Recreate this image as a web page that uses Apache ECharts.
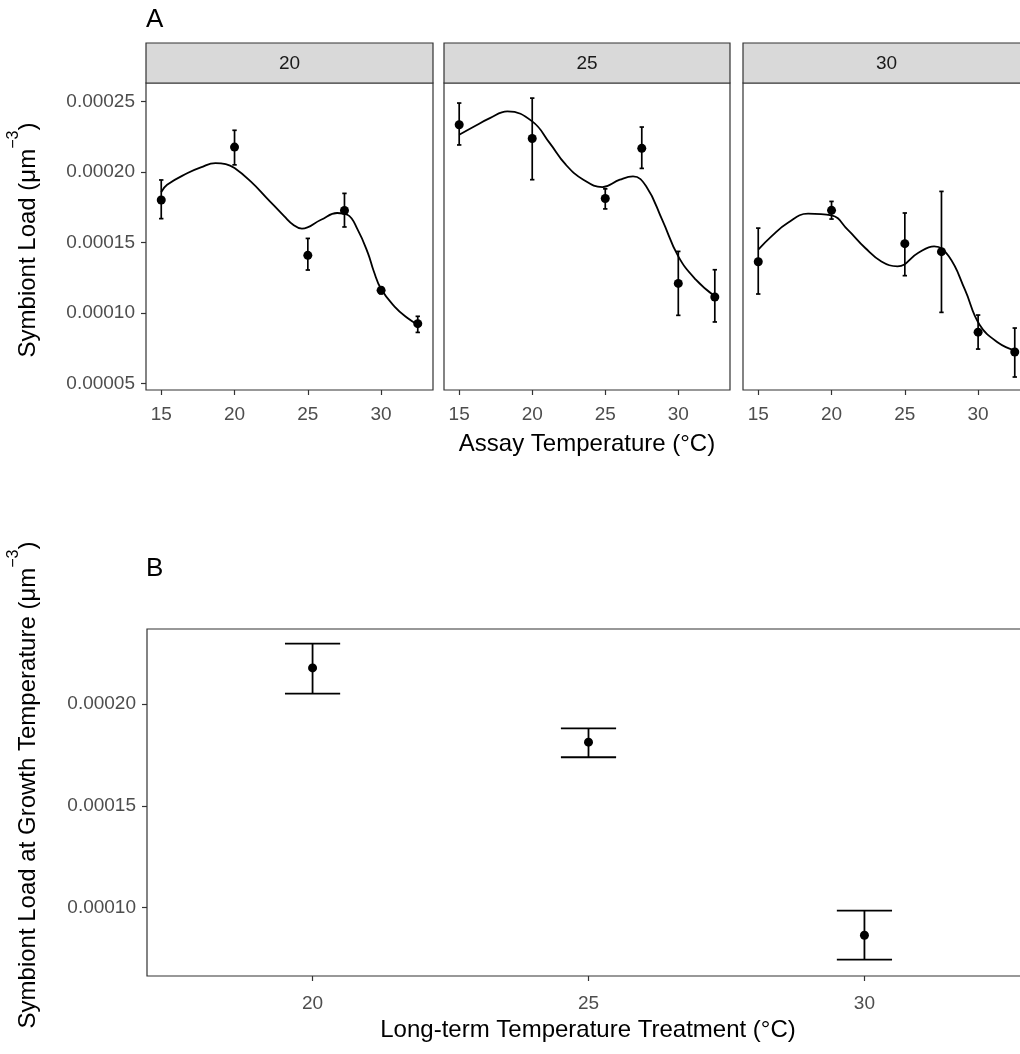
<!DOCTYPE html>
<html>
<head>
<meta charset="utf-8">
<script src="https://cdn.jsdelivr.net/npm/echarts@6/dist/echarts.min.js"></script>
<style>
  html, body { margin: 0; padding: 0; background: #fff; }
  #chart { width: 1020px; height: 1054px; }
</style>
</head>
<body>
<div id="chart"></div>
<script>
// ---- Panel A: symbiont load across assay temperatures, one facet per growth temperature ----
const facetLabels = ['20', '25', '30'];
const assayTemps = [15, 20, 25, 27.5, 30, 32.5];

const load20 = [0.0001801, 0.0002176, 0.0001409, 0.0001727, 0.0001161, 0.0000925];
const lo20   = [0.0001669, 0.0002050, 0.0001305, 0.0001610, 0.0001137, 0.0000863];
const hi20   = [0.0001943, 0.0002295, 0.0001529, 0.0001848, 0.0001185, 0.0000977];

const load25 = [0.0002334, 0.0002237, 0.0001812, 0.0002167, 0.0001210, 0.0001114];
const lo25   = [0.0002191, 0.0001945, 0.0001738, 0.0002025, 0.0000984, 0.0000937];
const hi25   = [0.0002488, 0.0002523, 0.0001880, 0.0002318, 0.0001437, 0.0001307];

const load30 = [0.0001364, 0.0001728, 0.0001492, 0.0001435, 0.0000865, 0.0000724];
const lo30   = [0.0001135, 0.0001666, 0.0001265, 0.0001005, 0.0000745, 0.0000547];
const hi30   = [0.0001602, 0.0001791, 0.0001709, 0.0001862, 0.0000986, 0.0000894];

// fitted curves (assay temperature, load)
const fitX20 = [15, 15.4, 16.8, 17.7, 18.7, 19.4, 20, 21.1, 22.2, 23.4, 24.0, 24.6, 25.9, 27.0, 27.7, 28.4, 29.1, 29.5, 30, 30.9, 31.8, 32.5];
const fitY20 = [0.0001857, 0.0001909, 0.0001992, 0.0002032, 0.0002063, 0.0002056, 0.0002027, 0.0001933, 0.0001815, 0.0001685, 0.0001626, 0.0001598, 0.0001661, 0.0001709, 0.0001697, 0.0001591, 0.0001425, 0.0001296, 0.0001170, 0.0001048, 0.0000965, 0.0000918];

const fitX25 = [15, 15.96, 17.1, 18.3, 20, 21.2, 22.3, 23.5, 24.8, 26.0, 26.9, 27.8, 28.9, 30, 31.2, 32.5];
const fitY25 = [0.0002263, 0.0002318, 0.0002381, 0.0002429, 0.0002358, 0.0002204, 0.0002051, 0.0001945, 0.0001893, 0.0001945, 0.0001968, 0.0001898, 0.0001661, 0.0001402, 0.0001237, 0.0001119];

const fitX30 = [15, 15.9, 17.0, 18.4, 20, 21.1, 22.3, 23.4, 24.5, 25.9, 27.0, 28.0, 29.1, 30.1, 31.4, 32.5];
const fitY30 = [0.0001449, 0.0001543, 0.0001638, 0.0001704, 0.0001692, 0.0001591, 0.0001461, 0.0001366, 0.0001331, 0.0001425, 0.0001473, 0.0001402, 0.0001166, 0.0000918, 0.0000788, 0.0000736];

const assayTicks = [15, 20, 25, 30];
const loadTicksA = [0.00005, 0.00010, 0.00015, 0.00020, 0.00025];

// ---- Panel B: load at the growth temperature ----
const treatments = [20, 25, 30];
const growthLoad = [0.0002176, 0.0001812, 0.0000865];
const growthLo   = [0.0002050, 0.0001738, 0.0000745];
const growthHi   = [0.0002295, 0.0001880, 0.0000986];
const loadTicksB = [0.00010, 0.00015, 0.00020];

// ---- layout ----
const FONT = '"Liberation Sans", Arial, Helvetica, sans-serif';
const facetLeft = [146, 444, 743];
const facetWidth = [287, 286, 287];
const panelTop = 83, panelH = 307, stripTop = 43, stripH = 40;
const bLeft = 147, bTop = 629, bWidth = 883, bHeight = 347;

const fits = [[fitX20, fitY20], [fitX25, fitY25], [fitX30, fitY30]];
const means = [load20, load25, load30];
const los = [lo20, lo25, lo30];
const his = [hi20, hi25, hi30];

function errorBars(axisIndex, xs, lo, hi, capHalf, width) {
  return {
    type: 'custom',
    xAxisIndex: axisIndex,
    yAxisIndex: axisIndex,
    silent: true,
    clip: false,
    z: 3,
    encode: { x: 0, y: [1, 2] },
    data: xs.map((x, i) => [x, lo[i], hi[i]]),
    renderItem(params, api) {
      const x = api.value(0);
      const pLo = api.coord([x, api.value(1)]);
      const pHi = api.coord([x, api.value(2)]);
      const l = api.coord([x - capHalf, api.value(1)])[0];
      const r = api.coord([x + capHalf, api.value(1)])[0];
      const st = { stroke: '#000', lineWidth: width };
      return {
        type: 'group',
        children: [
          { type: 'line', shape: { x1: pLo[0], y1: pLo[1], x2: pHi[0], y2: pHi[1] }, style: st },
          { type: 'line', shape: { x1: l, y1: pLo[1], x2: r, y2: pLo[1] }, style: st },
          { type: 'line', shape: { x1: l, y1: pHi[1], x2: r, y2: pHi[1] }, style: st }
        ]
      };
    }
  };
}

const grids = [], xAxes = [], yAxes = [], series = [], graphics = [];

for (let f = 0; f < 3; f++) {
  grids.push({
    left: facetLeft[f], top: panelTop, width: facetWidth[f], height: panelH,
    show: true, borderColor: '#333333', borderWidth: 1.2, backgroundColor: 'transparent',
    containLabel: false, outerBoundsMode: 'none'
  });
  xAxes.push({
    type: 'value', gridIndex: f, min: 13.96, max: 33.54,
    axisLine: { show: false }, splitLine: { show: false },
    axisTick: { show: true, customValues: assayTicks, length: 5, lineStyle: { color: '#333333', width: 1.2 } },
    axisLabel: { show: true, customValues: assayTicks, color: '#4d4d4d', fontSize: 19, fontFamily: FONT, margin: 15 }
  });
  yAxes.push({
    type: 'value', gridIndex: f, min: 0.0000455, max: 0.000263,
    axisLine: { show: false }, splitLine: { show: false },
    axisTick: { show: f === 0, customValues: loadTicksA, length: 5, lineStyle: { color: '#333333', width: 1.2 } },
    axisLabel: {
      show: f === 0, customValues: loadTicksA, color: '#4d4d4d', fontSize: 19, fontFamily: FONT, margin: 11,
      formatter: v => v.toFixed(5)
    }
  });
  series.push({
    type: 'line', xAxisIndex: f, yAxisIndex: f,
    data: fits[f][0].map((x, i) => [x, fits[f][1][i]]),
    smooth: 0.45, symbol: 'none', silent: true, z: 2,
    lineStyle: { color: '#000', width: 1.8 }
  });
  series.push(errorBars(f, assayTemps, los[f], his[f], 0.15, 1.7));
  series.push({
    type: 'scatter', xAxisIndex: f, yAxisIndex: f, symbolSize: 9, z: 4,
    itemStyle: { color: '#000', opacity: 1 },
    data: assayTemps.map((x, i) => [x, means[f][i]])
  });
  // facet strip
  graphics.push({
    type: 'rect', z: 10,
    shape: { x: facetLeft[f], y: stripTop, width: facetWidth[f], height: stripH },
    style: { fill: '#d9d9d9', stroke: '#333333', lineWidth: 1.2 }
  });
  graphics.push({
    type: 'text', z: 11,
    x: facetLeft[f] + facetWidth[f] / 2, y: stripTop + stripH / 2 + 1,
    style: { text: facetLabels[f], fill: '#1a1a1a', font: '19px ' + FONT, textAlign: 'center', textVerticalAlign: 'middle' }
  });
}

// Panel B
grids.push({
  left: bLeft, top: bTop, width: bWidth, height: bHeight,
  show: true, borderColor: '#333333', borderWidth: 1.2, backgroundColor: 'transparent',
  containLabel: false, outerBoundsMode: 'none'
});
xAxes.push({
  type: 'value', gridIndex: 3, min: 17, max: 33,
  axisLine: { show: false }, splitLine: { show: false },
  axisTick: { show: true, customValues: treatments, length: 5, lineStyle: { color: '#333333', width: 1.2 } },
  axisLabel: { show: true, customValues: treatments, color: '#4d4d4d', fontSize: 19, fontFamily: FONT, margin: 18 }
});
yAxes.push({
  type: 'value', gridIndex: 3, min: 0.0000665, max: 0.0002367,
  axisLine: { show: false }, splitLine: { show: false },
  axisTick: { show: true, customValues: loadTicksB, length: 5, lineStyle: { color: '#333333', width: 1.2 } },
  axisLabel: { show: true, customValues: loadTicksB, color: '#4d4d4d', fontSize: 19, fontFamily: FONT, margin: 11, formatter: v => v.toFixed(5) }
});
series.push(errorBars(3, treatments, growthLo, growthHi, 0.5, 1.8));
series.push({
  type: 'scatter', xAxisIndex: 3, yAxisIndex: 3, symbolSize: 9, z: 4,
  itemStyle: { color: '#000', opacity: 1 },
  data: treatments.map((x, i) => [x, growthLoad[i]])
});

// titles and tags
const titleRich = {
  a: { fontSize: 24, fontFamily: FONT, fill: '#000', lineHeight: 34, verticalAlign: 'bottom' },
  s: { fontSize: 16, fontFamily: FONT, fill: '#000', lineHeight: 16, verticalAlign: 'top' }
};
graphics.push(
  { type: 'text', x: 146, y: 20, style: { text: 'A', font: '26px ' + FONT, fill: '#000', textAlign: 'left', textVerticalAlign: 'middle' } },
  { type: 'text', x: 146, y: 569, style: { text: 'B', font: '26px ' + FONT, fill: '#000', textAlign: 'left', textVerticalAlign: 'middle' } },
  { type: 'text', x: 587, y: 444, style: { text: 'Assay Temperature (°C)', font: '24px ' + FONT, fill: '#000', textAlign: 'center', textVerticalAlign: 'middle' } },
  { type: 'text', x: 588, y: 1030, style: { text: 'Long-term Temperature Treatment (°C)', font: '24px ' + FONT, fill: '#000', textAlign: 'center', textVerticalAlign: 'middle' } },
  { type: 'text', x: 23, y: 240, rotation: Math.PI / 2,
    style: { text: '{a|Symbiont Load (μm}{s|−3}{a|)}', rich: titleRich, textAlign: 'center', textVerticalAlign: 'middle' } },
  { type: 'text', x: 23, y: 785, rotation: Math.PI / 2,
    style: { text: '{a|Symbiont Load at Growth Temperature (μm}{s|−3}{a|)}', rich: titleRich, textAlign: 'center', textVerticalAlign: 'middle' } }
);

const chart = echarts.init(document.getElementById('chart'), null, { renderer: 'canvas' });
chart.setOption({
  animation: false,
  backgroundColor: '#ffffff',
  grid: grids,
  xAxis: xAxes,
  yAxis: yAxes,
  series: series,
  graphic: graphics
});
</script>
</body>
</html>
